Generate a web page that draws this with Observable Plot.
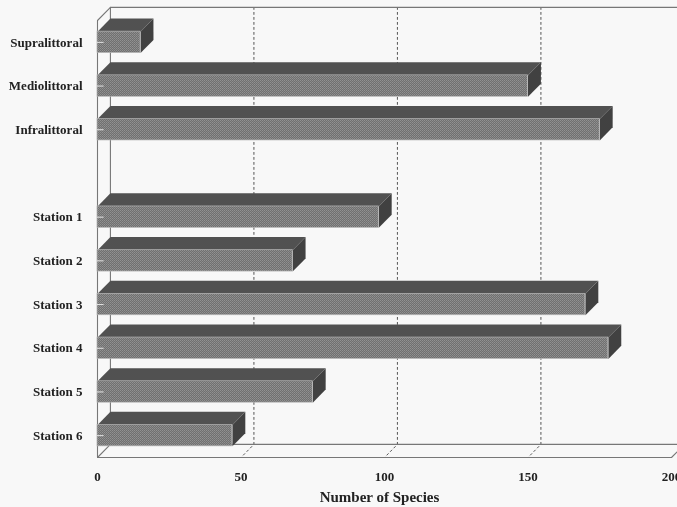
<!DOCTYPE html>
<html>
<head>
<meta charset="utf-8">
<script src="https://cdn.jsdelivr.net/npm/d3@7"></script>
<script src="https://cdn.jsdelivr.net/npm/@observablehq/plot@0.6"></script>
<style>
  html, body { margin: 0; padding: 0; background: #f8f8f8; overflow: hidden; }
  #chart svg { display: block; filter: blur(0.35px); }
</style>
</head>
<body>
<svg width="0" height="0" style="position:absolute">
  <defs>
    <pattern id="ditherFront" width="2" height="2" patternUnits="userSpaceOnUse">
      <rect width="2" height="2" fill="#707070"/>
      <rect width="1" height="1" fill="#929292"/>
      <rect x="1" y="1" width="1" height="1" fill="#888888"/>
    </pattern>
    <pattern id="ditherTop" width="2" height="2" patternUnits="userSpaceOnUse">
      <rect width="2" height="2" fill="#474747"/>
      <rect width="1" height="1" fill="#5f5f5f"/>
      <rect x="1" y="1" width="1" height="1" fill="#585858"/>
    </pattern>
    <pattern id="ditherSide" width="2" height="2" patternUnits="userSpaceOnUse">
      <rect width="2" height="2" fill="#3c3c3c"/>
      <rect width="1" height="1" fill="#505050"/>
    </pattern>
  </defs>
</svg>
<div id="chart"></div>
<script>
const categories = ["Supralittoral", "Mediolittoral", "Infralittoral", "Station 1", "Station 2", "Station 3", "Station 4", "Station 5", "Station 6"];
const species = [15, 150, 175, 98, 68, 170, 178, 75, 47];
const slots = [0, 1, 2, 4, 5, 6, 7, 8, 9];
const xTicks = [0, 50, 100, 150, 200];

// The chart's pseudo-3D depth, in data units of each scale.
const depthX = 4.5;
const depthY = 0.3;
const halfBar = 0.245;
const slotCount = 10;
const xMax = 200;

const bars = categories.map((name, i) => ({name, value: species[i], y: slots[i] + 0.5}));

const topFaces = bars.flatMap(b => [
  {id: b.name, x: 0, y: b.y - halfBar},
  {id: b.name, x: b.value, y: b.y - halfBar},
  {id: b.name, x: b.value + depthX, y: b.y - halfBar - depthY},
  {id: b.name, x: depthX, y: b.y - halfBar - depthY}
]);
const sideFaces = bars.flatMap(b => [
  {id: b.name, x: b.value, y: b.y - halfBar},
  {id: b.name, x: b.value + depthX, y: b.y - halfBar - depthY},
  {id: b.name, x: b.value + depthX, y: b.y + halfBar - depthY},
  {id: b.name, x: b.value, y: b.y + halfBar}
]);

const frameLines = [
  [[0, 0], [0, slotCount], [xMax, slotCount], [xMax + depthX, slotCount - depthY]],
  [[xMax + depthX, -depthY], [depthX, -depthY], [depthX, slotCount - depthY], [xMax + depthX, slotCount - depthY]],
  [[0, 0], [depthX, -depthY]],
  [[0, slotCount], [depthX, slotCount - depthY]]
].flatMap((pts, id) => pts.map(([x, y]) => ({id, x, y})));

const gridBack = xTicks.slice(1, -1).flatMap(t => [
  {id: t, x: t + depthX, y: -depthY},
  {id: t, x: t + depthX, y: slotCount - depthY},
  {id: t, x: t, y: slotCount}
]);

const plot = Plot.plot({
  width: 677,
  height: 507,
  marginLeft: 97,
  marginRight: 6,
  marginTop: 20,
  marginBottom: 50,
  style: {background: "transparent", fontFamily: "'Liberation Serif', serif", fontWeight: "bold", fontSize: "13px", color: "#222"},
  x: {domain: [0, xMax]},
  y: {domain: [0, slotCount], reverse: true},
  marks: [
    Plot.line(gridBack, {x: "x", y: "y", z: "id", stroke: "#555", strokeWidth: 1, strokeDasharray: "2,3"}),
    Plot.line(frameLines, {x: "x", y: "y", z: "id", stroke: "#777", strokeWidth: 1.1}),
    Plot.line(topFaces, {x: "x", y: "y", z: "id", fill: "url(#ditherTop)", stroke: "none", curve: "linear-closed"}),
    Plot.line(sideFaces, {x: "x", y: "y", z: "id", fill: "url(#ditherSide)", stroke: "none", curve: "linear-closed"}),
    Plot.rect(bars, {x1: 0, x2: "value", y1: d => d.y - halfBar, y2: d => d.y + halfBar, fill: "url(#ditherFront)", stroke: "#b5b5b5", strokeWidth: 0.7}),
    Plot.ruleY(bars, {y: "y", x1: 0, x2: 2.3, stroke: "#e4e4e4", strokeWidth: 1}),
    Plot.axisY({
      ticks: bars.map(b => b.y),
      tickFormat: y => bars.find(b => b.y === y).name,
      tickSize: 0,
      tickPadding: 15,
      fontSize: 13,
      label: null
    }),
    Plot.axisX({
      ticks: xTicks,
      tickFormat: d3.format("d"),
      tickSize: 0,
      tickPadding: 14,
      fontSize: 13,
      label: null
    }),
    Plot.text(["Number of Species"], {frameAnchor: "bottom", dx: -5, dy: 44, fontSize: 15})
  ]
});
document.getElementById("chart").append(plot);
</script>
</body>
</html>
